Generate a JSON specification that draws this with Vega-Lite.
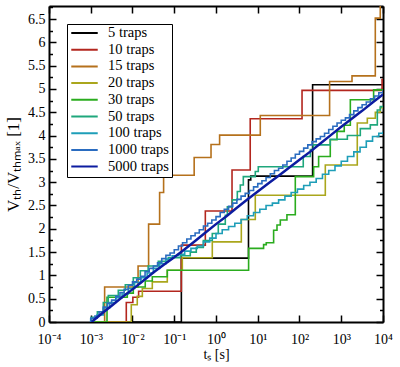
{
  "$schema": "https://vega.github.io/schema/vega-lite/v6.json",
  "width": 334,
  "height": 316,
  "autosize": "none",
  "padding": {"left": 49, "top": 6, "right": 17, "bottom": 45},
  "config": {
    "font": "Liberation Serif",
    "view": {"stroke": null},
    "axis": {"zindex": 1, "domainColor": "black", "domainWidth": 2, "tickColor": "black", "tickWidth": 1.5, "grid": false, "labelColor": "black", "titleColor": "black", "labelFont": "Liberation Serif", "titleFont": "Liberation Serif", "labelFontSize": 14, "titleFontSize": 15, "titleFontWeight": "normal"}
  },
  "data": {"values": [
    {"s":"5 traps","t":0.001,"v":0},{"s":"5 traps","t":0.148,"v":1.37},{"s":"5 traps","t":6.0,"v":3.05},{"s":"5 traps","t":6.8,"v":3.13},{"s":"5 traps","t":206,"v":5.09},{"s":"5 traps","t":10000,"v":5.09},
    {"s":"10 traps","t":0.001,"v":0},{"s":"10 traps","t":0.0071,"v":0.42},{"s":"10 traps","t":0.0102,"v":0.53},{"s":"10 traps","t":0.014,"v":0.66},{"s":"10 traps","t":0.148,"v":1.65},{"s":"10 traps","t":0.555,"v":2.38},{"s":"10 traps","t":2.42,"v":3.26},{"s":"10 traps","t":6.6,"v":4.36},{"s":"10 traps","t":115,"v":4.97},{"s":"10 traps","t":9500,"v":5.2},{"s":"10 traps","t":10000,"v":5.2},
    {"s":"15 traps","t":0.001,"v":0},{"s":"15 traps","t":0.00215,"v":0.75},{"s":"15 traps","t":0.0136,"v":1.2},{"s":"15 traps","t":0.0243,"v":2.1},{"s":"15 traps","t":0.0446,"v":2.78},{"s":"15 traps","t":0.0556,"v":3.15},{"s":"15 traps","t":0.3,"v":3.53},{"s":"15 traps","t":0.76,"v":3.81},{"s":"15 traps","t":1.22,"v":4.01},{"s":"15 traps","t":11.5,"v":4.43},{"s":"15 traps","t":526,"v":5.16},{"s":"15 traps","t":1810,"v":5.28},{"s":"15 traps","t":6540,"v":6.52},{"s":"15 traps","t":8600,"v":7.0},{"s":"15 traps","t":10000,"v":7.0},
    {"s":"20 traps","t":0.001,"v":0},{"s":"20 traps","t":0.00935,"v":0.37},{"s":"20 traps","t":0.013,"v":0.55},{"s":"20 traps","t":0.0172,"v":0.72},{"s":"20 traps","t":0.0298,"v":0.86},{"s":"20 traps","t":0.0681,"v":1.11},{"s":"20 traps","t":0.156,"v":1.38},{"s":"20 traps","t":0.815,"v":1.72},{"s":"20 traps","t":4.04,"v":2.2},{"s":"20 traps","t":8.73,"v":2.72},{"s":"20 traps","t":415,"v":3.37},{"s":"20 traps","t":2420,"v":4.27},{"s":"20 traps","t":4210,"v":4.37},{"s":"20 traps","t":6550,"v":4.5},{"s":"20 traps","t":8630,"v":4.6},{"s":"20 traps","t":10000,"v":4.6},
    {"s":"30 traps","t":0.001,"v":0},{"s":"30 traps","t":0.00245,"v":0.53},{"s":"30 traps","t":0.0075,"v":0.62},{"s":"30 traps","t":0.01045,"v":0.75},{"s":"30 traps","t":0.0202,"v":0.88},{"s":"30 traps","t":0.0298,"v":0.97},{"s":"30 traps","t":0.0681,"v":1.11},{"s":"30 traps","t":6.04,"v":1.58},{"s":"30 traps","t":13.8,"v":1.66},{"s":"30 traps","t":16,"v":1.7},{"s":"30 traps","t":24,"v":1.97},{"s":"30 traps","t":28.9,"v":2.08},{"s":"30 traps","t":34.7,"v":2.19},{"s":"30 traps","t":50,"v":2.3},{"s":"30 traps","t":79.3,"v":3.12},{"s":"30 traps","t":218,"v":3.33},{"s":"30 traps","t":287,"v":3.55},{"s":"30 traps","t":546,"v":3.91},{"s":"30 traps","t":791,"v":4.09},{"s":"30 traps","t":1180,"v":4.22},{"s":"30 traps","t":1650,"v":4.77},{"s":"30 traps","t":5960,"v":4.98},{"s":"30 traps","t":10000,"v":4.98},
    {"s":"50 traps","t":0.001,"v":0},{"s":"50 traps","t":0.00103,"v":0.1},{"s":"50 traps","t":0.00144,"v":0.22},{"s":"50 traps","t":0.002,"v":0.42},{"s":"50 traps","t":0.00263,"v":0.57},{"s":"50 traps","t":0.00457,"v":0.68},{"s":"50 traps","t":0.00673,"v":0.8},{"s":"50 traps","t":0.01045,"v":0.95},{"s":"50 traps","t":0.0154,"v":1.1},{"s":"50 traps","t":0.0237,"v":1.2},{"s":"50 traps","t":0.0415,"v":1.3},{"s":"50 traps","t":0.0721,"v":1.38},{"s":"50 traps","t":0.14,"v":1.42},{"s":"50 traps","t":0.242,"v":1.5},{"s":"50 traps","t":0.337,"v":1.6},{"s":"50 traps","t":0.497,"v":1.75},{"s":"50 traps","t":0.815,"v":1.9},{"s":"50 traps","t":1.135,"v":2.1},{"s":"50 traps","t":1.67,"v":2.29},{"s":"50 traps","t":1.87,"v":2.47},{"s":"50 traps","t":2.46,"v":2.62},{"s":"50 traps","t":3.24,"v":2.8},{"s":"50 traps","t":3.82,"v":2.94},{"s":"50 traps","t":4.51,"v":3.12},{"s":"50 traps","t":8.73,"v":3.23},{"s":"50 traps","t":10.3,"v":3.33},{"s":"50 traps","t":123,"v":3.55},{"s":"50 traps","t":182,"v":3.7},{"s":"50 traps","t":214,"v":3.8},{"s":"50 traps","t":546,"v":3.92},{"s":"50 traps","t":1400,"v":4.0},{"s":"50 traps","t":2860,"v":4.15},{"s":"50 traps","t":4970,"v":4.23},{"s":"50 traps","t":7310,"v":4.55},{"s":"50 traps","t":8630,"v":4.62},{"s":"50 traps","t":10000,"v":4.62},
    {"s":"100 traps","t":0.00095,"v":0},{"s":"100 traps","t":0.001,"v":0.08},{"s":"100 traps","t":0.00141,"v":0.15},{"s":"100 traps","t":0.002,"v":0.3},{"s":"100 traps","t":0.00282,"v":0.42},{"s":"100 traps","t":0.00398,"v":0.52},{"s":"100 traps","t":0.00562,"v":0.6},{"s":"100 traps","t":0.00794,"v":0.72},{"s":"100 traps","t":0.0112,"v":0.85},{"s":"100 traps","t":0.0158,"v":0.95},{"s":"100 traps","t":0.0224,"v":1.05},{"s":"100 traps","t":0.0316,"v":1.15},{"s":"100 traps","t":0.0447,"v":1.25},{"s":"100 traps","t":0.0631,"v":1.35},{"s":"100 traps","t":0.0891,"v":1.42},{"s":"100 traps","t":0.126,"v":1.45},{"s":"100 traps","t":0.178,"v":1.52},{"s":"100 traps","t":0.251,"v":1.58},{"s":"100 traps","t":0.355,"v":1.63},{"s":"100 traps","t":0.501,"v":1.72},{"s":"100 traps","t":0.708,"v":1.8},{"s":"100 traps","t":1,"v":1.9},{"s":"100 traps","t":1.41,"v":1.98},{"s":"100 traps","t":2,"v":2.05},{"s":"100 traps","t":2.82,"v":2.12},{"s":"100 traps","t":3.98,"v":2.2},{"s":"100 traps","t":5.62,"v":2.28},{"s":"100 traps","t":7.94,"v":2.35},{"s":"100 traps","t":11.2,"v":2.42},{"s":"100 traps","t":15.8,"v":2.5},{"s":"100 traps","t":22.4,"v":2.55},{"s":"100 traps","t":31.6,"v":2.62},{"s":"100 traps","t":44.7,"v":2.7},{"s":"100 traps","t":63.1,"v":2.78},{"s":"100 traps","t":89.1,"v":2.85},{"s":"100 traps","t":126,"v":2.93},{"s":"100 traps","t":178,"v":3.0},{"s":"100 traps","t":251,"v":3.08},{"s":"100 traps","t":355,"v":3.17},{"s":"100 traps","t":501,"v":3.25},{"s":"100 traps","t":708,"v":3.35},{"s":"100 traps","t":1000,"v":3.45},{"s":"100 traps","t":1410,"v":3.55},{"s":"100 traps","t":2000,"v":3.65},{"s":"100 traps","t":2820,"v":3.75},{"s":"100 traps","t":3980,"v":3.88},{"s":"100 traps","t":5620,"v":3.98},{"s":"100 traps","t":7940,"v":4.05},{"s":"100 traps","t":10000,"v":4.09},
    {"s":"1000 traps","t":0.00095,"v":0},{"s":"1000 traps","t":0.001,"v":0.08},{"s":"1000 traps","t":0.00126,"v":0.13},{"s":"1000 traps","t":0.00158,"v":0.22},{"s":"1000 traps","t":0.002,"v":0.32},{"s":"1000 traps","t":0.00251,"v":0.4},{"s":"1000 traps","t":0.00316,"v":0.47},{"s":"1000 traps","t":0.00398,"v":0.55},{"s":"1000 traps","t":0.00501,"v":0.63},{"s":"1000 traps","t":0.00631,"v":0.7},{"s":"1000 traps","t":0.00794,"v":0.79},{"s":"1000 traps","t":0.01,"v":0.86},{"s":"1000 traps","t":0.0126,"v":0.92},{"s":"1000 traps","t":0.0158,"v":0.98},{"s":"1000 traps","t":0.02,"v":1.08},{"s":"1000 traps","t":0.0251,"v":1.15},{"s":"1000 traps","t":0.0316,"v":1.2},{"s":"1000 traps","t":0.0398,"v":1.27},{"s":"1000 traps","t":0.0501,"v":1.36},{"s":"1000 traps","t":0.0631,"v":1.43},{"s":"1000 traps","t":0.0794,"v":1.48},{"s":"1000 traps","t":0.1,"v":1.55},{"s":"1000 traps","t":0.126,"v":1.63},{"s":"1000 traps","t":0.158,"v":1.7},{"s":"1000 traps","t":0.2,"v":1.78},{"s":"1000 traps","t":0.251,"v":1.85},{"s":"1000 traps","t":0.316,"v":1.91},{"s":"1000 traps","t":0.398,"v":1.98},{"s":"1000 traps","t":0.501,"v":2.06},{"s":"1000 traps","t":0.631,"v":2.12},{"s":"1000 traps","t":0.794,"v":2.19},{"s":"1000 traps","t":1,"v":2.26},{"s":"1000 traps","t":1.26,"v":2.35},{"s":"1000 traps","t":1.58,"v":2.42},{"s":"1000 traps","t":2.0,"v":2.48},{"s":"1000 traps","t":2.51,"v":2.55},{"s":"1000 traps","t":3.16,"v":2.63},{"s":"1000 traps","t":3.98,"v":2.7},{"s":"1000 traps","t":5.01,"v":2.76},{"s":"1000 traps","t":6.31,"v":2.82},{"s":"1000 traps","t":7.94,"v":2.9},{"s":"1000 traps","t":10,"v":2.97},{"s":"1000 traps","t":12.6,"v":3.03},{"s":"1000 traps","t":15.8,"v":3.1},{"s":"1000 traps","t":20,"v":3.18},{"s":"1000 traps","t":25.1,"v":3.25},{"s":"1000 traps","t":31.6,"v":3.3},{"s":"1000 traps","t":39.8,"v":3.37},{"s":"1000 traps","t":50.1,"v":3.45},{"s":"1000 traps","t":63.1,"v":3.52},{"s":"1000 traps","t":79.4,"v":3.6},{"s":"1000 traps","t":100,"v":3.66},{"s":"1000 traps","t":126,"v":3.73},{"s":"1000 traps","t":158,"v":3.8},{"s":"1000 traps","t":200,"v":3.87},{"s":"1000 traps","t":251,"v":3.93},{"s":"1000 traps","t":316,"v":3.98},{"s":"1000 traps","t":398,"v":4.05},{"s":"1000 traps","t":501,"v":4.13},{"s":"1000 traps","t":631,"v":4.2},{"s":"1000 traps","t":794,"v":4.27},{"s":"1000 traps","t":1000,"v":4.33},{"s":"1000 traps","t":1260,"v":4.38},{"s":"1000 traps","t":1580,"v":4.45},{"s":"1000 traps","t":2000,"v":4.53},{"s":"1000 traps","t":2510,"v":4.6},{"s":"1000 traps","t":3160,"v":4.66},{"s":"1000 traps","t":3980,"v":4.72},{"s":"1000 traps","t":5010,"v":4.79},{"s":"1000 traps","t":6310,"v":4.85},{"s":"1000 traps","t":7940,"v":4.92},{"s":"1000 traps","t":10000,"v":4.97},
    {"s":"5000 traps","t":0.00105,"v":0},{"s":"5000 traps","t":0.00178,"v":0.17},{"s":"5000 traps","t":0.00316,"v":0.35},{"s":"5000 traps","t":0.00562,"v":0.53},{"s":"5000 traps","t":0.01,"v":0.7},{"s":"5000 traps","t":0.0178,"v":0.88},{"s":"5000 traps","t":0.0316,"v":1.06},{"s":"5000 traps","t":0.0562,"v":1.23},{"s":"5000 traps","t":0.1,"v":1.39},{"s":"5000 traps","t":0.178,"v":1.56},{"s":"5000 traps","t":0.316,"v":1.74},{"s":"5000 traps","t":0.562,"v":1.92},{"s":"5000 traps","t":1,"v":2.1},{"s":"5000 traps","t":1.78,"v":2.27},{"s":"5000 traps","t":3.16,"v":2.45},{"s":"5000 traps","t":5.62,"v":2.63},{"s":"5000 traps","t":10,"v":2.8},{"s":"5000 traps","t":17.8,"v":2.97},{"s":"5000 traps","t":31.6,"v":3.14},{"s":"5000 traps","t":56.2,"v":3.31},{"s":"5000 traps","t":100,"v":3.48},{"s":"5000 traps","t":178,"v":3.65},{"s":"5000 traps","t":316,"v":3.83},{"s":"5000 traps","t":562,"v":4.01},{"s":"5000 traps","t":1000,"v":4.19},{"s":"5000 traps","t":1780,"v":4.36},{"s":"5000 traps","t":3160,"v":4.53},{"s":"5000 traps","t":5620,"v":4.71},{"s":"5000 traps","t":10000,"v":4.88}
  ]},
  "resolve": {"axis": {"x": "independent", "y": "independent"}},
  "layer": [
    {
      "transform": [{"filter": "datum.s !== '5000 traps'"}],
      "mark": {"type": "line", "interpolate": "step-after", "strokeWidth": 1.6, "clip": true},
      "encoding": {
        "x": {"field": "t", "type": "quantitative", "scale": {"type": "log", "domain": [0.0001, 10000]},
              "axis": {"orient": "bottom", "values": [0.0001,0.001,0.01,0.1,1,10,100,1000,10000], "tickSize": -7, "labelPadding": 17, "labelExpr": "datum.value <= 0.0002 ? '10⁻⁴' : datum.value <= 0.002 ? '10⁻³' : datum.value <= 0.02 ? '10⁻²' : datum.value <= 0.2 ? '10⁻¹' : datum.value <= 2 ? '10⁰' : datum.value <= 20 ? '10¹' : datum.value <= 200 ? '10²' : datum.value <= 2000 ? '10³' : '10⁴'", "labelFlush": false, "title": "tₛ [s]", "titleFontSize": 14, "titlePadding": 1}},
        "y": {"field": "v", "type": "quantitative", "scale": {"domain": [0, 6.78], "nice": false},
              "axis": {"orient": "left", "values": [0,0.5,1,1.5,2,2.5,3,3.5,4,4.5,5,5.5,6,6.5], "tickSize": -7, "labelPadding": 11, "labelExpr": "format(datum.value, '~g')", "title": "Vₜₕ/Vₜₕₘₐₓ [1]", "titleFontSize": 17, "titlePadding": 5}},
        "color": {"field": "s", "type": "nominal",
                  "scale": {"domain": ["5 traps","10 traps","15 traps","20 traps","30 traps","50 traps","100 traps","1000 traps","5000 traps"],
                            "range": ["#000000","#b3261e","#b5711c","#aaa61c","#2aac1e","#1fa77c","#1e9eb8","#2a6cc0","#0c1ca0"]},
                  "legend": {"orient": "none", "legendX": 18, "legendY": 18, "title": null, "strokeColor": "black", "fillColor": "white", "padding": 3, "symbolType": "stroke", "symbolSize": 700, "symbolStrokeWidth": 2, "clipHeight": 12, "labelFont": "Liberation Serif", "labelFontSize": 14.5, "labelColor": "black", "rowPadding": 1.7, "labelOffset": 9}}
      }
    },
    {
      "transform": [{"filter": "datum.s === '5000 traps'"}],
      "mark": {"type": "line", "interpolate": "linear", "strokeWidth": 2.5, "clip": true},
      "encoding": {
        "x": {"field": "t", "type": "quantitative", "axis": null},
        "y": {"field": "v", "type": "quantitative", "axis": null},
        "color": {"field": "s", "type": "nominal"}
      }
    },
    {
      "mark": {"type": "point", "opacity": 0},
      "encoding": {
        "x": {"field": "t", "type": "quantitative", "axis": {"orient": "top", "values": [0.0001,0.001,0.01,0.1,1,10,100,1000,10000], "tickSize": -7, "labels": false, "title": null}},
        "y": {"field": "v", "type": "quantitative", "axis": {"orient": "right", "values": [0,0.5,1,1.5,2,2.5,3,3.5,4,4.5,5,5.5,6,6.5], "tickSize": -7, "labels": false, "title": null}}
      }
    },
    {
      "mark": {"type": "point", "opacity": 0},
      "encoding": {
        "x": {"field": "t", "type": "quantitative", "axis": null},
        "y": {"field": "v", "type": "quantitative", "axis": {"orient": "left", "values": [0.25,0.75,1.25,1.75,2.25,2.75,3.25,3.75,4.25,4.75,5.25,5.75,6.25,6.75], "tickSize": -3.5, "labels": false, "domain": false, "title": null}}
      }
    },
    {
      "mark": {"type": "point", "opacity": 0},
      "encoding": {
        "x": {"field": "t", "type": "quantitative", "axis": null},
        "y": {"field": "v", "type": "quantitative", "axis": {"orient": "right", "values": [0.25,0.75,1.25,1.75,2.25,2.75,3.25,3.75,4.25,4.75,5.25,5.75,6.25,6.75], "tickSize": -3.5, "labels": false, "domain": false, "title": null}}
      }
    }
  ]
}
